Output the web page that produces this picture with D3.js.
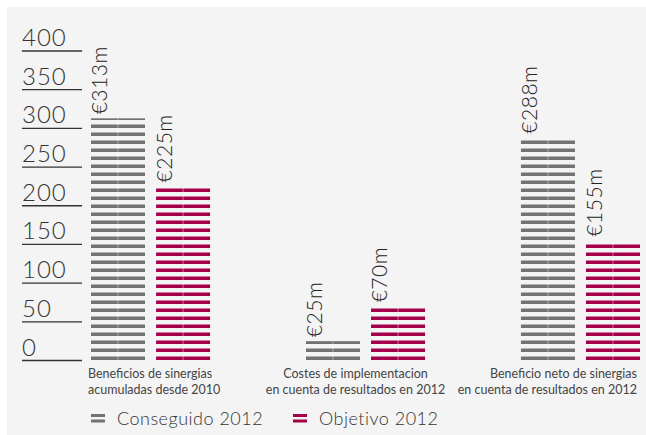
<!DOCTYPE html>
<html>
<head>
<meta charset="utf-8">
<script src="https://cdn.jsdelivr.net/npm/d3@7"></script>
<style>
  body { margin: 0; background: #fff; }
  svg { display: block; font-family: Lato, "Open Sans", sans-serif; }
</style>
</head>
<body>
<div id="chart"></div>
<script>
const categories = [
	["Beneficios de sinergias", "acumuladas desde 2010"],
	["Costes de implementacion", "en cuenta de resultados en 2012"],
	["Beneficio neto de sinergias", "en cuenta de resultados en 2012"]
];
const seriesNames = ["Conseguido 2012", "Objetivo 2012"];
const conseguido = [313, 25, 288];
const objetivo = [225, 70, 155];
const yTicks = [0, 50, 100, 150, 200, 250, 300, 350, 400];

const width = 646, height = 435;
const colors = { "Conseguido 2012": "#727272", "Objetivo 2012": "#a5004a" };

const svg = d3.select("#chart").append("svg")
	.attr("width", width)
	.attr("height", height);

// panel background
svg.append("rect")
	.attr("x", 7).attr("y", 7)
	.attr("width", width - 7).attr("height", height - 7)
	.attr("fill", "#f4f4f4");

const y = d3.scaleLinear().domain([0, 400]).range([360.5, 51]);

const x0 = d3.scaleBand()
	.domain(d3.range(categories.length))
	.range([91, 640])
	.paddingInner(0.446)
	.paddingOuter(0);

const x1 = d3.scaleBand()
	.domain(seriesNames)
	.range([0, x0.bandwidth()])
	.paddingInner(0.17);

// striped patterns anchored to the baseline
const defs = svg.append("defs");
seriesNames.forEach((s, i) => {
	const p = defs.append("pattern")
		.attr("id", "stripe" + i)
		.attr("patternUnits", "userSpaceOnUse")
		.attr("x", 0).attr("y", y(0) - 0.5)
		.attr("width", 10).attr("height", 8);
	p.append("rect")
		.attr("x", 0).attr("y", 4.5)
		.attr("width", 10).attr("height", 3.5)
		.attr("fill", colors[s]);
});

// y axis: numbers sitting on short rules
const yAxis = svg.append("g");
yAxis.selectAll("line")
	.data(yTicks)
	.join("line")
	.attr("x1", 22).attr("x2", 82)
	.attr("y1", d => y(d)).attr("y2", d => y(d))
	.attr("stroke", "#333")
	.attr("stroke-width", 1.3);
yAxis.selectAll("text")
	.data(yTicks)
	.join("text")
	.attr("x", 22)
	.attr("y", d => y(d) - 5)
	.attr("font-size", 24)
	.attr("font-weight", 300)
	.attr("letter-spacing", 1)
	.attr("fill", "#333")
	.text(d => d);

const rows = categories.map((c, i) => ({
	i,
	values: [
		{ key: seriesNames[0], value: conseguido[i], idx: 0 },
		{ key: seriesNames[1], value: objetivo[i], idx: 1 }
	]
}));

const group = svg.append("g")
	.selectAll("g")
	.data(rows)
	.join("g")
	.attr("transform", d => `translate(${x0(d.i)},0)`);

group.selectAll("rect.bar")
	.data(d => d.values)
	.join("rect")
	.attr("class", "bar")
	.attr("x", d => x1(d.key))
	.attr("y", d => y(d.value))
	.attr("width", x1.bandwidth())
	.attr("height", d => y(0) - y(d.value))
	.attr("fill", d => `url(#stripe${d.idx})`);

// faint split line down the middle of each bar
group.selectAll("line.split")
	.data(d => d.values)
	.join("line")
	.attr("class", "split")
	.attr("x1", d => x1(d.key) + x1.bandwidth() / 2)
	.attr("x2", d => x1(d.key) + x1.bandwidth() / 2)
	.attr("y1", d => y(d.value))
	.attr("y2", y(0))
	.attr("stroke", "#f4f4f4")
	.attr("stroke-opacity", 0.45)
	.attr("stroke-width", 1);

// rotated value labels
group.selectAll("text.val")
	.data(d => d.values)
	.join("text")
	.attr("class", "val")
	.attr("transform", d => `translate(${x1(d.key) + 16},${y(d.value) - 4}) rotate(-90)`)
	.attr("font-size", 21)
	.attr("font-weight", 300)
	.attr("letter-spacing", 0.5)
	.attr("fill", "#222")
	.text(d => `€${d.value}m`);

// category labels: first left, middle centred, last right-aligned
const anchors = ["start", "middle", "end"];
const labelX = i => i === 0 ? x0(i) - 3
	: i === 1 ? x0(i) + x0.bandwidth() / 2 - 10
	: x0(i) + x0.bandwidth() - 3;
const catLabel = svg.append("g")
	.selectAll("text")
	.data(rows)
	.join("text")
	.attr("font-size", 12.5)
	.attr("fill", "#444")
	.attr("text-anchor", d => anchors[d.i]);
catLabel.selectAll("tspan")
	.data(d => categories[d.i].map(t => ({ t, i: d.i })))
	.join("tspan")
	.attr("x", d => labelX(d.i))
	.attr("y", (d, j) => 378 + j * 16)
	.text(d => d.t);

// legend
const legendX = [91, 293];
const legend = svg.append("g")
	.selectAll("g")
	.data(seriesNames)
	.join("g")
	.attr("transform", (d, i) => `translate(${legendX[i]},414)`);
legend.selectAll("rect")
	.data(d => [d, d])
	.join("rect")
	.attr("x", 0)
	.attr("y", (d, j) => j * 5.5)
	.attr("width", 14)
	.attr("height", 3)
	.attr("fill", d => colors[d]);
legend.append("text")
	.attr("x", 26)
	.attr("y", 11)
	.attr("font-size", 18)
	.attr("font-weight", 300)
	.attr("letter-spacing", 0.5)
	.attr("fill", "#333")
	.text(d => d);
</script>
</body>
</html>
